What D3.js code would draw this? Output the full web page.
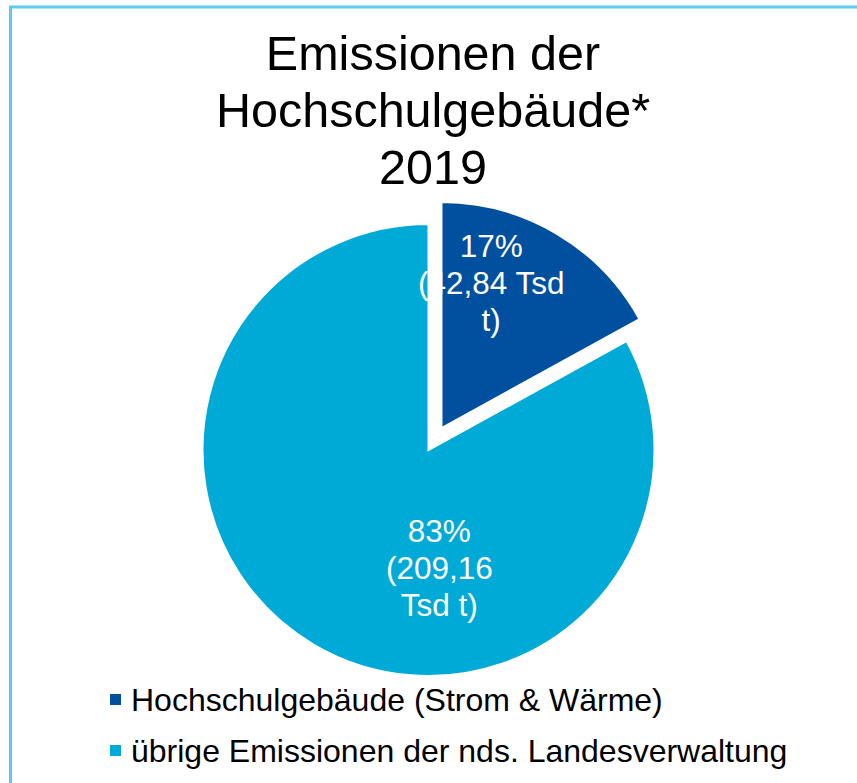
<!DOCTYPE html>
<html>
<head>
<meta charset="utf-8">
<script src="https://cdn.jsdelivr.net/npm/d3@7"></script>
<style>
  body { margin: 0; background: #fff; }
  svg { display: block; font-family: "Liberation Sans", Arial, sans-serif; }
</style>
</head>
<body>
<div id="chart"></div>
<script>
// data
const categories = ['Hochschulgebäude (Strom & Wärme)', 'übrige Emissionen der nds. Landesverwaltung'];
const values = [42.84, 209.16];
const labelLines = [['17%', '(42,84 Tsd', 't)'], ['83%', '(209,16', 'Tsd t)']];
const titleLines = ['Emissionen der', 'Hochschulgebäude*', '2019'];
const colors = ['#00509F', '#00AAD7'];

const width = 857, height = 783;
const cx = 428.5, cy = 450, radius = 226;
const explode = [25.5, 0];
// where excel put the labels: fraction along the slice angle, distance from centre
const labelAngleFrac = [0.31, 0.38];
const labelDist = [153, 118];

const svg = d3.select('#chart').append('svg')
  .attr('width', width)
  .attr('height', height);

// outer frame (right and bottom run off the picture)
svg.append('rect')
  .attr('x', 10.5).attr('y', 7)
  .attr('width', 900).attr('height', 900)
  .attr('fill', 'none')
  .attr('stroke', '#5DC9F3')
  .attr('stroke-width', 3);

// title
svg.append('text')
  .attr('text-anchor', 'middle')
  .attr('font-size', 48.5)
  .attr('fill', '#000')
  .selectAll('tspan')
  .data(titleLines)
  .enter().append('tspan')
  .attr('x', 433)
  .attr('y', (d, i) => 70 + i * 57)
  .text(d => d);

const pie = d3.pie().sort(null).value(d => d);
const arcs = pie(values);
const arc = d3.arc().innerRadius(0).outerRadius(radius);

const slices = svg.append('g').attr('transform', `translate(${cx},${cy})`);

const g = slices.selectAll('g.slice')
  .data(arcs)
  .enter().append('g')
  .attr('class', 'slice')
  .attr('transform', (d, i) => {
    const a = (d.startAngle + d.endAngle) / 2;
    return `translate(${Math.sin(a) * explode[i]},${-Math.cos(a) * explode[i]})`;
  });

g.append('path')
  .attr('d', arc)
  .attr('fill', (d, i) => colors[i])
  .attr('stroke', '#fff')
  .attr('stroke-width', 2);

// labels drawn after both slices so the small one can peek over the gap
const labels = slices.selectAll('text.lbl')
  .data(arcs)
  .enter().append('text')
  .attr('class', 'lbl')
  .attr('text-anchor', 'middle')
  .attr('font-size', 31.5)
  .attr('fill', '#fff')
  .attr('transform', (d, i) => {
    const m = (d.startAngle + d.endAngle) / 2;
    const a = d.startAngle + (d.endAngle - d.startAngle) * labelAngleFrac[i];
    const ox = Math.sin(m) * explode[i], oy = -Math.cos(m) * explode[i];
    return `translate(${ox + Math.sin(a) * labelDist[i]},${oy - Math.cos(a) * labelDist[i]})`;
  });

labels.selectAll('tspan')
  .data((d, i) => labelLines[i].map((t, j, arr) => ({t, j, n: arr.length})))
  .enter().append('tspan')
  .attr('x', 0)
  .attr('y', d => (d.j - (d.n - 1) / 2) * 37 + 11)
  .text(d => d.t);

// legend
const legend = svg.append('g').attr('transform', 'translate(110,0)');
const item = legend.selectAll('g')
  .data(categories)
  .enter().append('g')
  .attr('transform', (d, i) => `translate(0,${711 + i * 51})`);

item.append('rect')
  .attr('x', 0).attr('y', -17)
  .attr('width', 11).attr('height', 11)
  .attr('fill', (d, i) => colors[i]);

item.append('text')
  .attr('x', 21)
  .attr('font-size', 32)
  .attr('fill', '#000')
  .text(d => d);
</script>
</body>
</html>
